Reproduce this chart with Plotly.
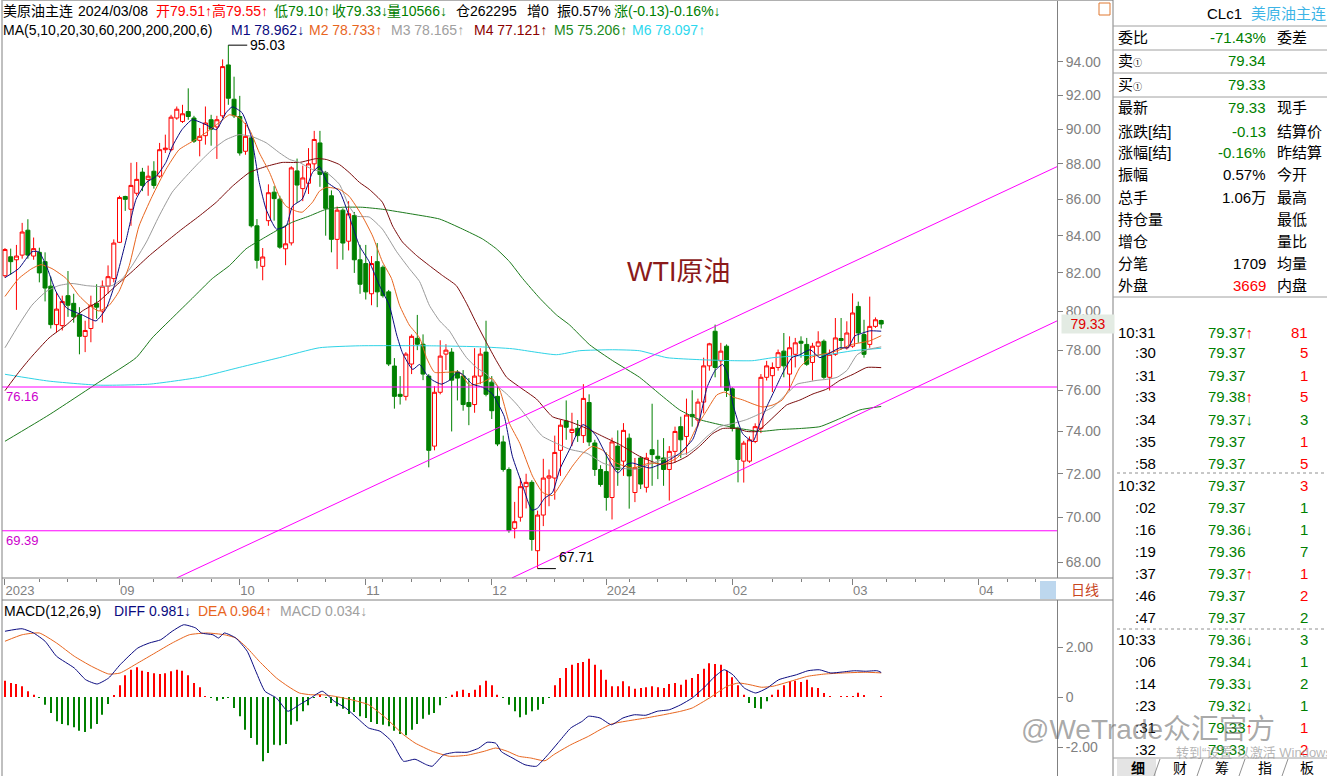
import math
import plotly.graph_objects as go

W, H = 1327, 776
FONT = "Arial, 'Noto Sans CJK SC', sans-serif"
RED = "#FF0000"
GREEN = "#008000"
BLACK = "#000000"
GRAY = "#808080"
MAGENTA = "#FF00FF"

# ------------------------------------------------------------------ data
bar_index = list(range(154))
month_ticks = [0, 20, 41, 63, 85, 105, 127, 148, 170]
month_labels = ["2023", "09", "10", "11", "12", "2024", "02", "03", "04"]
week_ticks = [6, 11, 16, 26, 31, 36, 46, 51, 56, 66, 71, 76, 81, 91, 96, 101,
              109, 114, 119, 124, 134, 139, 144, 154, 159, 164, 175, 180]
price_ticks = [68, 70, 72, 74, 76, 78, 80, 82, 84, 86, 88, 90, 92, 94]
macd_ticks = [-2, 0, 2]
macd_ticklabels = ["-2.00", "0", "2.00"]

open_ = [81.85, 82.86, 82.70, 82.95, 84.30, 82.90, 83.10, 82.60, 81.30, 79.30,
         79.25, 80.80, 80.40, 79.80, 78.70, 79.10, 80.40, 80.00, 81.30, 81.70,
         83.64, 86.16, 85.45, 86.34, 87.53, 87.12, 87.58, 87.30, 88.81, 88.81,
         90.65, 90.45, 91.03, 90.65, 89.35, 89.62, 90.55, 90.13, 90.78, 93.82,
         91.76, 90.74, 88.72, 89.49, 84.54, 82.35, 84.82, 86.40, 86.01, 83.29,
         83.61, 87.60, 86.60, 86.90, 88.00, 89.20, 87.50, 86.20, 83.80, 85.40,
         83.70, 85.10, 82.70, 82.50, 80.90, 82.60, 82.30, 81.00, 77.20, 75.80,
         75.70, 77.30, 78.60, 78.30, 76.70, 73.30, 75.90, 77.80, 77.90, 76.90,
         76.70, 75.40, 75.30, 76.70, 77.90, 76.40, 75.70, 73.50, 72.20, 69.50,
         70.00, 71.40, 71.60, 68.50, 70.10, 71.80, 71.80, 73.10, 74.50, 73.95,
         74.15, 73.80, 75.40, 73.45, 72.20, 72.10, 70.90, 73.30, 72.59, 73.68,
         71.13, 72.74, 71.37, 73.13, 72.82, 72.74, 72.20, 73.05, 74.23, 73.76,
         74.82, 74.55, 75.42, 77.21, 78.96, 77.46, 78.20, 76.07, 74.15, 72.59,
         72.59, 73.52, 74.15, 76.64, 76.72, 77.13, 77.95, 76.80, 77.79, 78.45,
         78.29, 77.38, 78.20, 78.45, 76.64, 77.79, 78.59, 78.12, 78.20, 80.24,
         78.79, 78.29, 79.21, 79.51]
high = [83.33, 83.30, 83.50, 84.70, 84.90, 83.90, 83.35, 83.10, 81.80, 81.00,
        80.80, 82.10, 80.90, 80.20, 79.50, 80.80, 81.40, 81.60, 82.40, 83.80,
        86.20, 86.20, 88.06, 88.10, 87.77, 87.90, 88.15, 89.20, 89.68, 90.84,
        91.33, 91.43, 92.41, 90.78, 90.07, 91.33, 90.84, 90.78, 94.16, 95.03,
        93.11, 91.96, 90.36, 89.58, 84.91, 83.33, 86.84, 86.74, 86.20, 84.54,
        87.86, 88.30, 87.90, 88.90, 89.90, 89.90, 87.60, 86.50, 85.60, 85.50,
        85.90, 85.30, 83.50, 83.50, 82.90, 83.60, 82.40, 81.10, 77.60, 76.70,
        77.90, 78.80, 79.80, 78.80, 76.80, 76.20, 78.50, 78.30, 78.10, 77.00,
        77.00, 76.60, 78.10, 78.10, 79.50, 76.70, 76.20, 73.80, 72.30, 70.70,
        71.80, 72.00, 71.70, 70.30, 72.70, 72.20, 73.80, 74.55, 75.50, 74.90,
        74.55, 76.30, 75.80, 73.60, 72.40, 73.00, 73.70, 74.05, 74.40, 73.90,
        72.74, 72.82, 72.98, 75.34, 73.60, 73.68, 73.30, 74.23, 74.71, 75.59,
        76.00, 75.59, 77.62, 78.37, 79.30, 78.37, 78.29, 76.15, 74.23, 73.55,
        73.76, 74.39, 76.80, 77.46, 77.38, 78.03, 78.87, 78.70, 78.62, 78.70,
        78.62, 78.37, 78.96, 78.54, 78.03, 79.64, 79.64, 79.47, 80.92, 80.49,
        79.55, 80.75, 79.67, 79.55]
low = [81.74, 81.90, 80.06, 82.76, 82.76, 82.70, 81.50, 80.50, 79.10, 78.90,
       79.00, 79.70, 79.40, 77.79, 77.90, 78.40, 79.60, 79.40, 80.90, 81.50,
       83.60, 85.36, 84.54, 86.20, 86.46, 86.20, 86.60, 87.20, 88.62, 88.72,
       90.55, 90.36, 90.55, 89.20, 88.43, 89.10, 89.04, 88.28, 90.65, 91.43,
       90.65, 88.47, 88.52, 84.45, 82.23, 81.61, 84.54, 84.82, 83.29, 82.41,
       83.47, 85.80, 85.90, 86.30, 87.60, 86.70, 84.00, 83.10, 82.20, 82.70,
       83.20, 82.00, 80.90, 80.60, 80.30, 80.20, 80.70, 77.20, 75.10, 75.30,
       75.50, 76.80, 78.00, 76.50, 72.30, 73.10, 75.80, 77.00, 74.00, 75.50,
       75.00, 74.30, 74.90, 76.30, 75.70, 74.60, 73.30, 72.10, 69.30, 69.05,
       69.80, 70.40, 68.50, 67.71, 69.60, 70.50, 70.80, 71.90, 73.60, 73.30,
       73.50, 73.45, 73.30, 71.90, 71.40, 70.30, 69.90, 71.44, 71.90, 70.39,
       70.69, 71.29, 71.13, 71.44, 71.75, 71.44, 70.76, 72.51, 72.74, 72.90,
       74.23, 74.23, 74.87, 76.97, 76.64, 76.15, 75.67, 74.00, 71.60, 71.59,
       72.51, 73.44, 73.92, 76.48, 75.91, 76.97, 76.64, 75.99, 77.13, 77.62,
       77.21, 76.48, 77.71, 76.56, 75.99, 77.71, 78.03, 78.03, 78.12, 78.37,
       77.62, 78.12, 79.13, 79.10]
close = [83.25, 82.60, 82.90, 84.20, 82.95, 83.30, 82.00, 81.20, 79.30, 80.10,
         80.50, 80.30, 79.70, 78.70, 79.00, 80.30, 80.20, 81.30, 81.80, 83.60,
         86.10, 86.00, 86.78, 87.12, 86.78, 87.30, 86.78, 88.81, 88.90, 90.70,
         91.17, 90.90, 90.74, 89.30, 89.58, 90.36, 90.00, 90.55, 93.72, 91.82,
         90.78, 88.62, 89.58, 84.54, 82.67, 82.85, 86.37, 86.04, 83.38, 83.56,
         87.77, 86.80, 87.20, 88.00, 89.40, 87.40, 85.50, 83.80, 85.40, 83.60,
         85.20, 82.70, 81.40, 81.00, 82.50, 81.00, 80.80, 77.30, 75.70, 75.70,
         77.80, 78.70, 78.30, 76.80, 73.10, 75.90, 77.70, 78.00, 76.50, 76.60,
         75.30, 75.20, 76.70, 77.80, 75.80, 75.00, 73.40, 72.20, 69.40, 69.80,
         71.40, 71.60, 69.00, 70.10, 71.80, 71.90, 73.00, 74.30, 74.20, 74.10,
         73.80, 75.60, 73.50, 72.20, 71.50, 70.90, 73.50, 72.20, 74.05, 71.90,
         72.28, 71.52, 72.74, 72.90, 72.70, 72.20, 73.05, 74.00, 73.60, 74.79,
         74.71, 75.42, 77.21, 78.32, 77.13, 77.95, 75.99, 74.15, 72.67, 73.44,
         73.60, 74.23, 76.64, 77.21, 77.13, 77.87, 77.21, 78.12, 78.37, 78.35,
         77.29, 78.20, 78.42, 76.64, 77.79, 78.62, 78.49, 78.87, 79.90, 78.87,
         77.79, 79.21, 79.55, 79.33]

# moving averages (bar position, value)
m1_x = [0, 2.4, 4.7, 5.9, 7.2, 8.9, 10.8, 13.5, 15.9, 17.7, 19.1, 21.2, 22.9, 24.7, 26.4, 28.1, 29.2, 30.9, 32.7, 35.1,
        36.9, 38.6, 39.7, 41.4, 43.0, 44.4, 45.6, 47.4, 49.1, 50.2, 51.9, 53.7, 54.9, 56.3, 58.4, 60.1, 61.9, 63.6, 65.4, 67.1,
        68.4, 69.4, 71.2, 72.4, 73.6, 74.7, 76.2, 77.6, 79.0, 79.9, 81.6, 83.4, 85.1, 86.4, 87.2, 88.6, 90.4, 92.0, 93.0, 94.2,
        95.6, 96.9, 98.6, 99.8, 100.9, 102.1, 103.3, 105.1, 107.0, 108.6, 109.6, 112.6, 115.6, 117.8, 120.1, 121.3, 122.6, 124.0, 125.3, 126.2,
        127.1, 128.8, 130.6, 131.8, 133.0, 134.4, 135.7, 137.4, 138.8, 140.6, 142.3, 144.1, 145.8, 147.2, 148.4, 149.8, 151.0, 153]
m1_y = [81.75, 82.23, 83.13, 83.13, 82.39, 81.02, 80.15, 79.80, 79.49, 80.15, 81.33, 83.82, 86.01, 86.95, 87.29, 88.08, 88.98, 89.97, 90.55, 90.26,
        89.97, 90.96, 91.31, 90.96, 89.56, 86.95, 85.45, 84.36, 84.53, 85.62, 86.01, 87.51, 87.85, 86.95, 86.45, 85.07, 83.45, 82.60, 81.33, 80.30,
        78.77, 77.87, 77.03, 77.28, 76.79, 76.49, 76.30, 76.49, 76.89, 76.79, 76.30, 76.15, 75.82, 75.18, 74.71, 72.82, 71.44, 70.32, 70.41, 70.86,
        71.13, 72.22, 73.15, 73.85, 74.33, 74.14, 73.76, 72.82, 72.04, 72.45, 72.50, 72.27, 72.59, 72.96, 73.62, 74.57, 76.15, 76.98, 77.28, 76.79,
        75.33, 73.90, 73.52, 74.37, 75.18, 76.01, 76.79, 77.62, 77.77, 78.02, 77.62, 77.87, 78.12, 78.12, 78.72, 78.87, 78.98, 78.962]
m2_x = [0, 2.4, 4.7, 6.3, 8.2, 10.7, 12.9, 14.7, 16.4, 18.2, 19.9, 21.7, 23.4, 25.7, 28.1, 30.4, 32.7, 35.1, 37.4, 39.2,
        40.9, 42.7, 44.4, 46.2, 47.9, 49.1, 50.9, 51.9, 53.7, 54.9, 56.1, 58.4, 60.1, 62.4, 64.2, 65.9, 67.5, 68.9, 70.6, 72.4,
        73.6, 75.0, 77.1, 79.4, 81.1, 83.4, 85.0, 86.4, 88.1, 89.9, 92.1, 93.9, 95.6, 97.4, 99.1, 100.9, 102.6, 104.4, 106.8, 109.6,
        112.6, 114.9, 117.3, 119.1, 120.8, 122.6, 124.3, 125.7, 127.1, 128.8, 130.6, 132.3, 134.1, 135.7, 137.1, 138.8, 140.6, 142.3, 144.1, 145.8,
        147.6, 149.3, 151.0, 153]
m2_y = [80.76, 81.70, 82.23, 82.44, 82.23, 81.70, 80.81, 80.30, 80.00, 80.30, 81.02, 82.39, 84.52, 86.17, 87.68, 88.81, 89.28, 89.80, 90.38, 90.84,
        90.67, 89.97, 88.64, 87.51, 86.17, 85.62, 85.34, 85.29, 85.84, 86.45, 86.67, 86.56, 86.17, 85.07, 83.98, 82.60, 81.70, 80.30, 79.28, 78.62,
        77.62, 76.89, 76.89, 76.89, 76.25, 76.40, 76.59, 76.01, 74.38, 73.43, 71.90, 71.13, 70.99, 71.67, 72.36, 72.96, 73.29, 73.10, 72.50, 72.27,
        72.50, 72.45, 72.73, 73.29, 74.23, 75.04, 75.77, 75.91, 75.67, 75.53, 75.33, 75.18, 75.28, 75.52, 76.15, 77.13, 77.62, 77.77, 77.87, 78.02,
        78.27, 78.37, 78.47, 78.733]
m3_x = [0, 2.4, 4.7, 7.2, 9.4, 11.7, 14.2, 16.4, 18.7, 20.5, 22.2, 24.7, 26.9, 29.2, 31.6, 33.9, 36.2, 38.6, 40.9, 43.2,
        45.6, 47.9, 49.7, 51.4, 53.7, 56.1, 58.4, 60.1, 61.4, 63.6, 65.9, 68.4, 70.6, 72.4, 74.1, 75.9, 77.6, 79.4, 80.6, 82.3,
        84.1, 85.8, 87.6, 89.3, 91.1, 92.8, 93.9, 96.3, 98.6, 101.6, 104.4, 107.3, 110.3, 113.1, 116.6, 119.1, 120.8, 122.6, 124.8, 127.1,
        129.5, 131.8, 134.1, 136.5, 138.3, 140.0, 141.8, 143.5, 145.3, 147.0, 148.8, 150.5, 153]
m3_y = [78.12, 79.28, 80.30, 81.02, 81.33, 81.44, 81.33, 81.28, 81.33, 81.70, 82.39, 83.66, 85.07, 86.40, 87.29, 88.08, 88.81, 89.39, 89.68, 89.56,
        89.21, 88.64, 88.25, 88.08, 87.68, 87.51, 86.84, 85.62, 85.07, 85.02, 84.36, 83.13, 82.23, 81.54, 80.30, 79.49, 78.98, 78.12, 77.62, 77.13,
        76.79, 76.25, 75.82, 75.33, 74.71, 74.09, 73.76, 73.43, 73.15, 72.96, 72.50, 72.27, 72.22, 72.50, 72.82, 72.96, 73.29, 73.76, 74.23, 74.38,
        74.57, 74.85, 75.18, 75.82, 76.30, 76.40, 76.49, 76.54, 76.64, 76.98, 77.77, 78.02, 78.165]
m4_x = [0, 2.4, 4.5, 7.7, 10.7, 13.5, 16.4, 19.4, 22.2, 25.2, 28.1, 30.9, 33.9, 36.9, 39.7, 42.7, 45.6, 48.4, 51.4, 54.4,
        56.1, 58.4, 60.1, 61.9, 63.6, 65.9, 67.7, 69.4, 71.9, 74.1, 76.4, 78.8, 80.6, 82.3, 84.1, 85.8, 87.6, 89.9, 92.8, 95.6,
        98.6, 101.6, 104.4, 107.3, 110.8, 114.3, 116.6, 119.1, 121.3, 123.6, 125.3, 127.8, 129.5, 131.3, 133.0, 134.8, 136.5, 138.8, 141.1, 143.5,
        145.8, 148.1, 150.5, 153]
m4_y = [75.98, 76.89, 77.62, 78.62, 79.28, 80.00, 80.51, 81.33, 82.07, 82.92, 83.66, 84.36, 85.07, 85.84, 86.73, 87.51, 87.85, 88.08, 88.08, 88.30,
        88.25, 87.96, 87.51, 86.95, 86.56, 85.84, 84.52, 83.66, 82.92, 82.39, 81.86, 81.33, 80.40, 79.38, 78.37, 77.47, 76.64, 76.15, 75.57, 74.71,
        74.47, 74.14, 73.76, 73.38, 72.82, 72.45, 72.50, 72.82, 73.29, 73.90, 74.14, 74.14, 74.00, 74.00, 74.38, 74.85, 75.28, 75.52, 75.82, 76.06,
        76.49, 76.79, 77.13, 77.121]
m5_x = [0, 7.7, 16.4, 22.9, 25.7, 29.2, 32.7, 36.2, 39.2, 42.1, 44.9, 47.9, 50.2, 53.1, 56.1, 58.9, 62.4, 65.9, 71.2, 75.9,
        79.9, 83.4, 85.8, 88.1, 90.4, 93.4, 96.3, 98.6, 102.1, 106.1, 110.8, 114.3, 117.8, 121.3, 124.8, 128.3, 131.8, 135.3, 138.8, 142.3,
        145.8, 149.3, 153]
m5_y = [73.53, 74.80, 76.40, 77.62, 78.62, 79.64, 80.66, 81.70, 82.39, 83.29, 83.82, 84.36, 84.74, 85.07, 85.45, 85.56, 85.56, 85.45, 85.18, 84.91,
        84.36, 83.82, 83.29, 82.60, 81.70, 80.66, 79.80, 79.28, 78.27, 77.47, 76.64, 75.82, 75.04, 74.57, 74.33, 74.14, 74.00, 74.09, 74.14, 74.23,
        74.62, 75.04, 75.206]
m6_x = [0, 7.7, 16.4, 25.2, 33.9, 40.9, 47.9, 54.9, 61.9, 74.1, 82.9, 88.6, 96.3, 100.3, 106.1, 110.8, 115.6, 121.3, 127.1, 130.6,
        134.1, 138.8, 143.5, 148.1, 153]
m6_y = [76.79, 76.45, 76.25, 76.30, 76.64, 77.13, 77.62, 78.12, 78.22, 78.22, 78.17, 78.07, 77.77, 77.97, 78.02, 77.97, 77.62, 77.52, 77.47, 77.47,
        77.62, 77.72, 77.77, 77.97, 78.097]

diff_x = [0, 3, 5, 7, 9, 12.1, 14.1, 16.1, 18.1, 20.1, 23.2, 25.2, 27.2, 29.2, 31.2, 33.3, 34.3, 36.3, 37.3, 38.3,
          40.3, 42.3, 43.8, 45.4, 47.4, 49.4, 51.4, 53.4, 55.4, 57.5, 59.5, 61.5, 63.5, 65.5, 67.5, 69.6, 71.6, 73.6, 74.6, 76.6,
          78.7, 80.7, 82.7, 84.2, 85.7, 86.7, 88.7, 90.8, 92.8, 94.8, 96.8, 98.8, 100.8, 101.9, 103.9, 105.9, 107.9, 109.9, 111.9, 113.9,
          116.0, 118.0, 120.0, 122.0, 124.0, 125.6, 127.1, 129.1, 131.1, 133.1, 135.1, 138.2, 140.2, 142.2, 144.2, 146.2, 148.3, 150.3, 152.3, 153]
diff_y = [2.63, 2.73, 2.56, 2.23, 1.63, 1.16, 0.69, 0.52, 0.76, 1.29, 1.96, 2.16, 2.29, 2.63, 2.89, 2.76, 2.56, 2.49, 2.36, 2.56,
          2.36, 1.83, 1.03, 0.23, -0.04, -0.57, -0.31, -0.04, 0.23, -0.17, -0.44, -0.84, -1.24, -1.37, -1.77, -2.57, -2.49, -2.71, -2.77, -2.31,
          -2.21, -2.21, -2.05, -1.81, -1.85, -2.19, -2.45, -2.71, -2.77, -2.31, -1.77, -1.24, -0.97, -0.77, -0.84, -1.11, -0.84, -0.71, -0.73, -0.57,
          -0.51, -0.31, -0.04, 0.36, 0.83, 1.09, 0.89, 0.36, 0.16, 0.36, 0.69, 0.89, 1.05, 1.09, 0.96, 1.00, 1.05, 1.03, 1.05, 0.981]
dea_x = [0, 3, 6, 9, 12.1, 15.1, 18.1, 20.1, 23.2, 26.2, 29.2, 32.2, 35.3, 38.3, 40.3, 42.3, 44.4, 47.4, 49.4, 51.4,
         53.4, 55.4, 57.5, 60.5, 63.5, 66.5, 69.6, 71.6, 74.6, 77.6, 80.7, 83.7, 85.7, 87.7, 89.7, 91.8, 94.3, 95.8, 98.8, 101.9,
         103.9, 105.9, 108.9, 111.9, 115.0, 118.0, 120.0, 123.0, 126.1, 128.1, 130.1, 132.1, 134.1, 137.2, 140.2, 143.2, 146.2, 150.3, 153]
dea_y = [2.23, 2.49, 2.56, 2.16, 1.63, 1.23, 0.92, 0.96, 1.36, 1.76, 2.16, 2.49, 2.56, 2.49, 2.36, 1.96, 1.43, 0.76, 0.43, 0.16,
         0.09, 0.09, 0.03, -0.11, -0.31, -0.84, -1.51, -1.84, -2.17, -2.37, -2.33, -2.17, -2.04, -2.17, -2.37, -2.44, -2.55, -2.31, -1.91, -1.57,
         -1.31, -1.08, -0.95, -0.84, -0.71, -0.57, -0.44, -0.04, 0.43, 0.56, 0.49, 0.39, 0.43, 0.63, 0.83, 0.92, 0.96, 0.99, 0.964]
macd_hist = [0.65, 0.56, 0.52, 0.43, 0.23, 0.09, -0.04, -0.31, -0.64, -0.97,
             -1.08, -1.13, -1.21, -1.35, -1.40, -1.27, -1.08, -0.71, -0.28, 0.05,
             0.47, 0.87, 1.09, 1.19, 1.05, 1.00, 0.95, 0.92, 0.95, 1.03,
             1.09, 1.05, 0.87, 0.56, 0.39, 0.02, -0.04, -0.15, -0.05, -0.02,
             -0.44, -0.77, -1.31, -1.64, -1.91, -2.57, -2.24, -1.91, -1.93, -1.88,
             -1.11, -0.97, -0.57, -0.33, -0.04, 0.09, -0.04, -0.24, -0.37, -0.47,
             -0.68, -0.60, -0.77, -0.84, -1.00, -1.08, -1.11, -1.17, -1.35, -1.48,
             -1.53, -1.31, -1.08, -0.87, -0.71, -0.64, -0.33, -0.01, 0.09, 0.23,
             0.29, 0.16, 0.29, 0.47, 0.65, 0.47, 0.09, -0.01, -0.31, -0.57,
             -0.81, -0.71, -0.57, -0.51, -0.28, -0.01, 0.47, 0.76, 1.16, 1.29,
             1.36, 1.40, 1.53, 1.29, 1.09, 0.69, 0.43, 0.43, 0.63, 0.43,
             0.33, 0.36, 0.39, 0.43, 0.39, 0.36, 0.52, 0.56, 0.49, 0.69,
             0.76, 0.92, 1.13, 1.35, 1.32, 1.29, 1.05, 0.79, 0.47, 0.09,
             -0.24, -0.44, -0.47, -0.17, 0.09, 0.29, 0.47, 0.63, 0.65, 0.60,
             0.69, 0.39, 0.36, 0.16, 0.03, 0.00, 0.04, 0.01, 0.04, 0.17,
             0.07, 0.00, 0.00, 0.034]

# horizontal support/resistance levels and channel lines (bar, price)
hlevels = [76.16, 69.39]
upper_channel_x = [29.98, 183.7]
upper_channel_y = [67.30, 87.84]
lower_channel_x = [88.5, 183.7]
lower_channel_y = [67.30, 79.49]
high_mark = (39, 95.03)
low_mark = (93, 67.71)
last_price = 79.33

X_RANGE = [-0.52, 183.7]
Y_RANGE = [67.30, 97.85]

# ------------------------------------------------------------------ helpers
def px(x):
    return x / W


def py(y):
    return 1 - y / H


annotations = []
shapes = []


def txt(x, y, s, color=BLACK, size=14, anchor="left", bg=None, family=FONT):
    d = dict(x=px(x), y=py(y), xref="paper", yref="paper", text=s, showarrow=False,
             xanchor=anchor, yanchor="middle", font=dict(family=family, size=size, color=color),
             borderpad=0)
    if bg:
        d["bgcolor"] = bg
    annotations.append(d)


def line(x0, y0, x1, y1, color=GRAY, width=1, dash=None):
    ln = dict(color=color, width=width)
    if dash:
        ln["dash"] = dash
    shapes.append(dict(type="line", xref="paper", yref="paper", x0=px(x0), y0=py(y0),
                       x1=px(x1), y1=py(y1), line=ln, layer="above"))


def rect(x0, y0, x1, y1, fill, color=None, width=0):
    shapes.append(dict(type="rect", xref="paper", yref="paper", x0=px(x0), y0=py(y0),
                       x1=px(x1), y1=py(y1), fillcolor=fill,
                       line=dict(color=color or fill, width=width), layer="below"))


# ------------------------------------------------------------------ figure
fig = go.Figure()

fig.add_trace(go.Candlestick(
    x=bar_index, open=open_, high=high, low=low, close=close,
    increasing=dict(line=dict(color=RED, width=1), fillcolor="#FFFFFF"),
    decreasing=dict(line=dict(color=GREEN, width=1), fillcolor=GREEN),
    whiskerwidth=0, xaxis="x", yaxis="y", showlegend=False, hoverinfo="skip"))

ma_specs = [(m6_x, m6_y, "#2ED3E6"), (m5_x, m5_y, "#1C7A1C"), (m4_x, m4_y, "#7A0A0A"),
            (m3_x, m3_y, "#9A9A9A"), (m2_x, m2_y, "#E8651E"), (m1_x, m1_y, "#0A0A80")]
for mx, my, col in ma_specs:
    fig.add_trace(go.Scatter(x=mx, y=my, mode="lines", xaxis="x", yaxis="y",
                             line=dict(color=col, width=1, shape="spline", smoothing=0.5),
                             showlegend=False, hoverinfo="skip"))

for lv in hlevels:
    fig.add_trace(go.Scatter(x=X_RANGE, y=[lv, lv], mode="lines", xaxis="x", yaxis="y",
                             line=dict(color=MAGENTA, width=1), showlegend=False, hoverinfo="skip"))
for cx, cy in [(upper_channel_x, upper_channel_y), (lower_channel_x, lower_channel_y)]:
    fig.add_trace(go.Scatter(x=cx, y=cy, mode="lines", xaxis="x", yaxis="y",
                             line=dict(color=MAGENTA, width=1), showlegend=False, hoverinfo="skip"))

# high / low leader lines
fig.add_trace(go.Scatter(x=[high_mark[0], high_mark[0] + 3.3], y=[high_mark[1], high_mark[1]],
                         mode="lines", line=dict(color=BLACK, width=1), xaxis="x", yaxis="y",
                         showlegend=False, hoverinfo="skip"))
fig.add_trace(go.Scatter(x=[low_mark[0], low_mark[0] + 3.2], y=[low_mark[1], low_mark[1]],
                         mode="lines", line=dict(color=BLACK, width=1), xaxis="x", yaxis="y",
                         showlegend=False, hoverinfo="skip"))
annotations.append(dict(x=high_mark[0] + 3.5, y=math.log10(high_mark[1]), xref="x", yref="y",
                        text=f"{high_mark[1]:.2f}", showarrow=False, xanchor="left", yanchor="middle",
                        font=dict(family=FONT, size=14, color=BLACK)))
annotations.append(dict(x=low_mark[0] + 3.4, y=math.log10(low_mark[1]) + 0.0005, xref="x", yref="y",
                        text=f"{low_mark[1]:.2f}", showarrow=False, xanchor="left", yanchor="bottom",
                        font=dict(family=FONT, size=14, color=BLACK)))
annotations.append(dict(x=px(1088), y=math.log10(last_price), xref="paper", yref="y",
                        text=f"{last_price:.2f}", showarrow=False, xanchor="center", yanchor="middle",
                        font=dict(family=FONT, size=14, color="#E00000"), bgcolor="#E3EBE3",
                        width=50, height=16))

# MACD panel
fig.add_trace(go.Bar(x=bar_index, y=macd_hist, width=0.18, xaxis="x2", yaxis="y2",
                     marker=dict(color=[RED if v >= 0 else GREEN for v in macd_hist], line=dict(width=0)),
                     showlegend=False, hoverinfo="skip"))
fig.add_trace(go.Scatter(x=dea_x, y=dea_y, mode="lines", xaxis="x2", yaxis="y2",
                         line=dict(color="#E8651E", width=1, shape="spline", smoothing=0.5),
                         showlegend=False, hoverinfo="skip"))
fig.add_trace(go.Scatter(x=diff_x, y=diff_y, mode="lines", xaxis="x2", yaxis="y2",
                         line=dict(color="#0A0A80", width=1, shape="spline", smoothing=0.5),
                         showlegend=False, hoverinfo="skip"))

# ------------------------------------------------------------------ texts
hdr1 = [(2, "美原油主连", BLACK), (77, "2024/03/08", BLACK), (155, "开79.51↑", RED),
        (211, "高79.55↑", RED), (273, "低79.10↑", GREEN), (331, "收79.33↓", GREEN),
        (386, "量10566↓", GREEN), (455, "仓262295", BLACK), (526, "增0", BLACK),
        (556, "振0.57%", BLACK), (613, "涨(-0.13)-0.16%↓", GREEN)]
for x, s, c in hdr1:
    txt(x, 11, s, c)
hdr2 = [(2, "MA(5,10,20,30,60,200,200,200,6)", BLACK), (230, "M1 78.962↓", "#0A0A80"),
        (308, "M2 78.733↑", "#E8651E"), (390, "M3 78.165↑", "#A0A0A0"),
        (473, "M4 77.121↑", "#8B0000"), (553, "M5 75.206↑", "#1C8A1C"),
        (631, "M6 78.097↑", "#2ED8EE")]
for x, s, c in hdr2:
    txt(x, 30, s, c)
hdr3 = [(3, "MACD(12,26,9)", BLACK), (113, "DIFF 0.981↓", "#0A0A80"),
        (197, "DEA 0.964↑", "#E8651E"), (279, "MACD 0.034↓", "#A0A0A0")]
for x, s, c in hdr3:
    txt(x, 611, s, c)

txt(678, 272, "WTI原油", "#8B1A1A", size=27, anchor="center")
txt(5, 396, "76.16", "#CC00CC", size=13)
txt(5, 540, "69.39", "#CC00CC", size=13)

# date band extras
rect(1040, 581, 1056, 599, "#BDD7EE")
txt(1085, 590, "日线", "#C8461E", size=14, anchor="center")

# frames
line(2, 0, 2, 776)
line(2, 0.5, 1113, 0.5, "#B0B0B0")
line(2, 578, 1113, 578)
line(2, 600, 1113, 600)
line(1113, 0, 1113, 776)
rect(1099, 3, 1110, 15, "rgba(0,0,0,0)", "#E07830", 1)

# side panel
txt(1206, 13, "CLc1", BLACK, size=15)
txt(1327, 13, "美原油主连", "#3CB4E6", size=15, anchor="right")
for yy in [26, 50, 73, 97, 297]:
    line(1113, yy, 1327, yy, "#A0A0A0")
rows = [(37, "委比", "-71.43%", GREEN, "委差"),
        (61, "卖<span style='font-size:9px'>①</span>", "79.34", GREEN, ""),
        (84, "买<span style='font-size:9px'>①</span>", "79.33", GREEN, ""),
        (108, "最新", "79.33", GREEN, "现手"),
        (131, "涨跌[结]", "-0.13", GREEN, "结算价"),
        (153, "涨幅[结]", "-0.16%", GREEN, "昨结算"),
        (175, "振幅", "0.57%", BLACK, "今开"),
        (197, "总手", "1.06万", BLACK, "最高"),
        (219, "持仓量", "", BLACK, "最低"),
        (241, "增仓", "", BLACK, "量比"),
        (263, "分笔", "1709", BLACK, "均量"),
        (285, "外盘", "3669", RED, "内盘")]
for yy, lab, val, col, rlab in rows:
    txt(1117, yy, lab, BLACK, size=15)
    if val:
        txt(1267, yy, val, col, size=15, anchor="right")
    if rlab:
        txt(1276, yy, rlab, BLACK, size=15)

tick_rows_y = [332, 353, 375, 397, 419, 441, 463, 485, 507, 529, 551, 573, 595, 617,
               639, 661, 683, 705, 727, 749]
tick_time = ["10:31", ":30", ":31", ":33", ":34", ":35", ":58", "10:32", ":02", ":16",
             ":19", ":37", ":46", ":47", "10:33", ":06", ":14", ":23", ":31", ":32"]
tick_price = ["79.37", "79.37", "79.37", "79.38", "79.37", "79.37", "79.37", "79.37", "79.37", "79.36",
              "79.36", "79.37", "79.37", "79.37", "79.36", "79.34", "79.33", "79.32", "79.33", "79.33"]
tick_arrow = ["↑", "", "", "↑", "↓", "", "", "", "", "↓", "", "↑", "", "", "↓", "↓", "↓", "↓", "↑", ""]
tick_vol = ["81", "5", "1", "5", "3", "1", "5", "3", "1", "1", "7", "1", "2", "2", "3", "1", "2", "1", "1", "2"]
tick_vol_up = [1, 1, 1, 1, 0, 1, 1, 1, 0, 0, 0, 1, 1, 0, 0, 0, 0, 0, 1, 1]
for yy, t, p, a, v, up in zip(tick_rows_y, tick_time, tick_price, tick_arrow, tick_vol, tick_vol_up):
    txt(1157, yy, t, BLACK, size=15, anchor="right")
    s = p
    if a:
        s += f"<span style='color:{RED if a == '↑' else GREEN}'>{a}</span>"
    txt(1207, yy, s, GREEN, size=15)
    txt(1309, yy, v, RED if up else GREEN, size=15, anchor="right")
line(1117, 473, 1327, 473, "#909090", 1, "dot")
line(1117, 629, 1327, 629, "#909090", 1, "dot")

# bottom tabs
line(1113, 758, 1327, 758, "#A0A0A0")
rect(1117, 759, 1156, 776, "#E4E4E4")
for x, s in [(1138, "<b>细</b>"), (1180, "财"), (1222, "筹"), (1265, "指"), (1307, "板")]:
    txt(x, 768, s, BLACK, size=14, anchor="center")
for x in [1158, 1201, 1243, 1286]:
    line(x - 4, 776, x + 2, 759, "#909090")

# watermarks
txt(1020, 729, "@WeTrade众汇官方", "rgba(95,95,95,0.55)", size=28)
txt(1175, 752, "转到“设置”以激活 Windows。", "rgba(150,150,150,0.7)", size=13)

# ------------------------------------------------------------------ layout
axis_font = dict(family=FONT, size=14, color=GRAY)
fig.update_layout(
    width=W, height=H, margin=dict(l=0, r=0, t=0, b=0),
    paper_bgcolor="#FFFFFF", plot_bgcolor="#FFFFFF", showlegend=False,
    boxgap=0.3, boxgroupgap=0.0,
    annotations=annotations, shapes=shapes,
    xaxis=dict(domain=[px(2), px(1057)], range=X_RANGE, anchor="y",
               tickmode="array", tickvals=month_ticks, ticktext=month_labels,
               ticks="outside", ticklen=6, tickcolor=GRAY, tickwidth=1,
               ticklabelposition="outside right", tickfont=dict(family=FONT, size=13, color=GRAY),
               showgrid=False, zeroline=False, showline=False,
               rangeslider=dict(visible=False),
               minor=dict(tickmode="array", tickvals=week_ticks, ticks="outside", ticklen=3,
                          tickcolor=GRAY, showgrid=False)),
    yaxis=dict(domain=[py(578), 1], type="log",
               range=[math.log10(Y_RANGE[0]), math.log10(Y_RANGE[1])], anchor="x",
               side="right", tickmode="array", tickvals=price_ticks,
               ticktext=[f"{v:.2f}" for v in price_ticks],
               ticks="outside", ticklen=5, tickcolor=GRAY, tickfont=axis_font,
               showgrid=False, zeroline=False, showline=True, linecolor=GRAY, linewidth=1),
    xaxis2=dict(domain=[px(2), px(1057)], range=X_RANGE, anchor="y2", matches="x",
                showticklabels=False, ticks="", showgrid=False, zeroline=False, showline=False),
    yaxis2=dict(domain=[0, py(600)], range=[-3.16, 3.88], anchor="x2", side="right",
                tickmode="array", tickvals=macd_ticks, ticktext=macd_ticklabels,
                ticks="outside", ticklen=5, tickcolor=GRAY, tickfont=axis_font,
                showgrid=False, zeroline=False, showline=True, linecolor=GRAY, linewidth=1),
)

fig.write_html("out.html")
